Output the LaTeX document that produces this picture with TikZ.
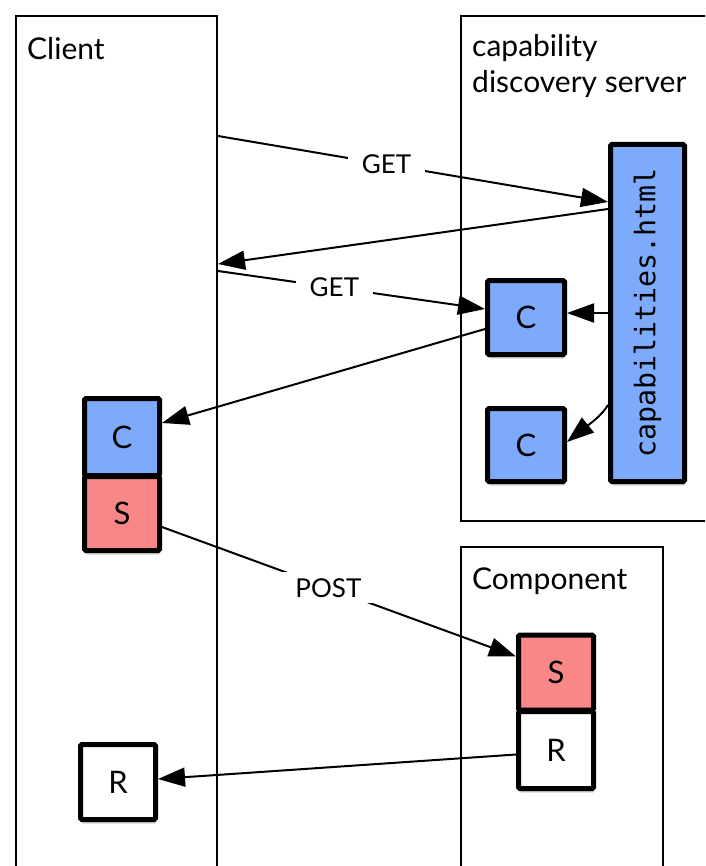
\documentclass[tikz,border=0pt]{standalone}
\usepackage{fontspec}
\usepackage{graphicx}
\setmainfont{Lato}
\setmonofont{DejaVu Sans Mono}
\usetikzlibrary{arrows.meta,shadows,calc}
\definecolor{cblue}{RGB}{125,170,250}
\definecolor{cpink}{RGB}{250,135,135}
\begin{document}
\begin{tikzpicture}[x=1pt,y=-1pt,
  container/.style={draw=black,line width=2pt,inner sep=0pt},
  token/.style={draw=black,line width=5pt,rounded corners=1.5pt,inner sep=0pt,
    font=\fontsize{31}{31}\selectfont,
    drop shadow={shadow xshift=1pt,shadow yshift=-4pt,fill=black,opacity=0.18}},
  arr/.style={line width=2pt,-{Triangle[length=27pt,width=19pt]}},
  lbl/.style={fill=white,font=\fontsize{26}{26}\selectfont,inner xsep=14pt,inner ysep=6pt},
  title/.style={font=\fontsize{30}{30}\selectfont,inner sep=0pt}
]
\clip (0,0) rectangle (705,866);
\fill[white] (0,0) rectangle (705,866);
% containers
\node[container,minimum width=201,minimum height=900,anchor=north west] (client) at (15,15) {};
\node[container,minimum width=260,minimum height=505,anchor=north west] (server) at (460,15) {};
\node[container,minimum width=202,minimum height=400,anchor=north west] (component) at (460,546) {};
% titles
\node[title,anchor=base west] (tclient) at (27,60) {Client};
\node[title,anchor=base west] (tsrv1) at (472,57) {capability};
\node[title,anchor=base west] (tsrv2) at (472,93) {discovery server};
\node[title,anchor=base west] (tcomp) at (472,589) {Component};
% tokens
\node[token,fill=cblue,minimum width=74,minimum height=337,font=\fontsize{28.3}{28.3}\ttfamily] (caps) at (647.5,313) {\rotatebox{90}{capabilities.html}};
\node[token,fill=cblue,minimum width=77,minimum height=74] (uc) at (526,317.5) {C};
\node[token,fill=cblue,minimum width=77,minimum height=73] (lc) at (526,445) {C};
\node[token,fill=cblue,minimum width=75,minimum height=77] (cc) at (122,437) {C};
\node[token,fill=cpink,minimum width=75,minimum height=74] (cs) at (122,513.5) {S};
\node[token,fill=cpink,minimum width=75,minimum height=75] (comps) at (556,672.5) {S};
\node[token,fill=white,minimum width=75,minimum height=77] (compr) at (556,750) {R};
\node[token,fill=white,minimum width=75,minimum height=75] (cr) at (118,782) {R};
% connectors
\coordinate (g1) at ($(client.north east)+(0,121)$);
\coordinate (ret) at ($(client.north east)+(0,249)$);
\coordinate (g2) at ($(client.north east)+(0,256)$);
\draw[arr] (g1) -- node[lbl,pos=0.432] (lget1) {GET} ($(caps.north west)+(0,60)$);
\draw[arr] ($(caps.north west)+(0,67)$) -- (ret);
\draw[arr] (g2) -- node[lbl,pos=0.436] (lget2) {GET} ($(uc.north west)+(0,31)$);
\draw[arr] ($(caps.north west)+(0,171)$) -- ($(uc.north east)+(0,35)$);
\draw[arr] ($(caps.north west)+(0,263)$) .. controls +(-7,12) and +(16,-13) .. ($(lc.north east)+(0,36)$);
\draw[arr] ($(uc.north west)+(0,51)$) -- ($(cc.north east)+(0,27)$);
\draw[arr] ($(cs.north east)+(0,53)$) -- node[lbl,pos=0.47] (lpost) {POST} ($(comps.north west)+(0,24)$);
\draw[arr] ($(compr.west)+(0,4.5)$) -- ($(cr.east)+(0,-3)$);
\end{tikzpicture}
\end{document}
